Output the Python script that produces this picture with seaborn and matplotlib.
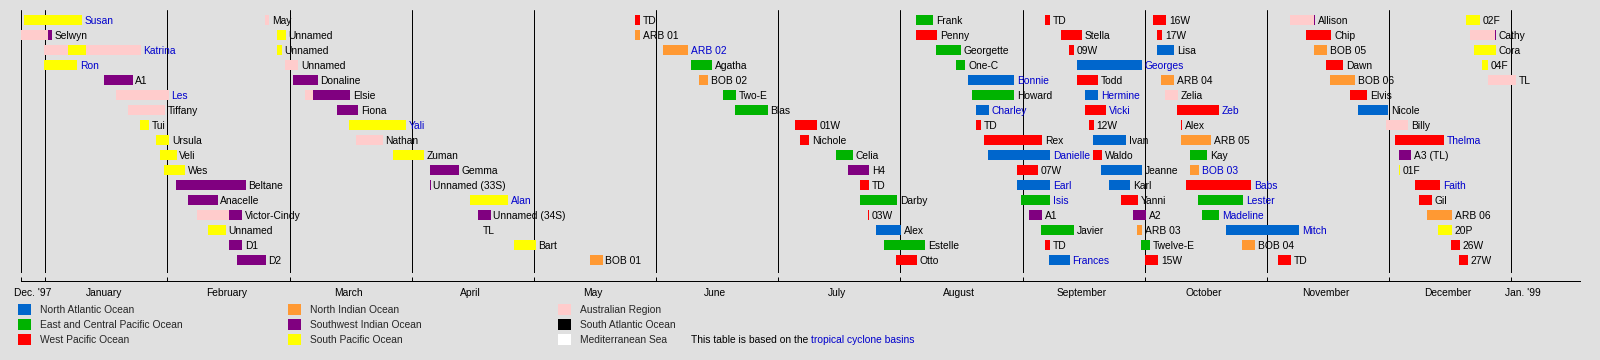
import matplotlib
matplotlib.use('Agg')
import matplotlib.pyplot as plt
from matplotlib.patches import Patch
from matplotlib.transforms import blended_transform_factory
import pandas as pd
import seaborn as sns

# Bars per timeline row: (label, start day, end day, basin). Days counted from 1 Jan 1998.
# A blank label means the bar continues in the next segment (basin change).
row_0 = [("Susan", -5.3, 9.1, "SPO"), ("May", 54.8, 55.8, "AUS"), ("TD", 146.8, 148.1, "WPO"),
         ("Frank", 216.8, 221.1, "EPO"), ("TD", 248.9, 250.2, "WPO"), ("16W", 275.8, 279.1, "WPO"),
         ("", 309.9, 315.9, "AUS"), ("Allison", 315.9, 316.2, "SWIO"), ("02F", 353.8, 357.3, "SPO")]
row_1 = [("", -6.0, 0.7, "AUS"), ("Selwyn", 0.7, 1.8, "SWIO"), ("Unnamed", 57.8, 59.9, "SPO"),
         ("ARB 01", 146.8, 148.1, "NIO"), ("Penny", 216.8, 222.1, "WPO"), ("Stella", 252.9, 258.2, "WPO"),
         ("17W", 276.8, 278.1, "WPO"), ("Chip", 313.9, 320.2, "WPO"), ("", 354.8, 361.0, "AUS"),
         ("Cathy", 361.0, 361.2, "SWIO")]
row_2 = [("", -0.2, 5.7, "AUS"), ("", 5.7, 10.1, "SPO"), ("Katrina", 10.1, 23.8, "AUS"),
         ("Unnamed", 57.6, 58.9, "SPO"), ("ARB 02", 153.8, 160.0, "NIO"), ("Georgette", 221.8, 228.0, "EPO"),
         ("09W", 254.9, 256.1, "WPO"), ("Lisa", 276.8, 281.1, "NAO"), ("BOB 05", 315.9, 319.2, "NIO"),
         ("Cora", 355.8, 361.2, "SPO")]
row_3 = [("Ron", -0.2, 8.0, "SPO"), ("Unnamed", 59.6, 63.0, "AUS"), ("Agatha", 160.8, 166.0, "EPO"),
         ("One-C", 226.8, 229.1, "EPO"), ("Georges", 256.9, 273.1, "NAO"),
         ("Dawn", 318.9, 323.1, "WPO"), ("04F", 357.8, 359.3, "SPO")]
row_4 = [("A1", 14.6, 21.8, "SWIO"), ("Donaline", 61.8, 67.9, "SWIO"), ("BOB 02", 162.8, 165.0, "NIO"),
         ("Bonnie", 229.8, 241.2, "NAO"), ("Todd", 256.9, 262.1, "WPO"), ("ARB 04", 277.8, 281.1, "NIO"),
         ("BOB 06", 319.9, 326.1, "NIO"), ("TL", 359.3, 366.2, "AUS")]
row_5 = [("Les", 17.6, 30.8, "AUS"), ("", 64.6, 66.7, "AUS"), ("Elsie", 66.7, 75.9, "SWIO"),
         ("Two-E", 168.8, 172.0, "EPO"), ("Howard", 230.8, 241.2, "EPO"), ("Hermine", 258.9, 262.1, "NAO"),
         ("Zelia", 278.8, 282.1, "AUS"), ("Elvis", 324.9, 329.1, "WPO")]
row_6 = [("Tiffany", 20.6, 29.8, "AUS"), ("Fiona", 72.6, 77.9, "SWIO"), ("Blas", 171.7, 179.9, "EPO"),
         ("Charley", 231.8, 235.0, "NAO"), ("Vicki", 258.9, 264.1, "WPO"), ("Zeb", 281.8, 292.3, "WPO"),
         ("Nicole", 326.9, 334.4, "NAO")]
row_7 = [("Tui", 23.6, 25.8, "SPO"), ("Yali", 75.6, 89.8, "SPO"), ("01W", 186.7, 192.1, "WPO"),
         ("TD", 231.8, 233.0, "WPO"), ("12W", 259.9, 261.1, "WPO"), ("Alex", 282.8, 283.0, "WPO"),
         ("Billy", 333.8, 339.3, "AUS")]
row_8 = [("Ursula", 27.6, 30.9, "SPO"), ("Nathan", 77.5, 84.0, "AUS"), ("Nichole", 187.9, 190.2, "WPO"),
         ("Rex", 233.8, 248.2, "WPO"), ("Ivan", 260.9, 269.1, "NAO"), ("ARB 05", 282.8, 290.3, "NIO"),
         ("Thelma", 336.1, 348.3, "WPO")]
row_9 = [("Veli", 28.6, 32.7, "SPO"), ("Zuman", 86.5, 94.3, "SPO"), ("Celia", 196.9, 201.1, "EPO"),
         ("Danielle", 234.7, 250.2, "NAO"), ("Waldo", 260.9, 263.1, "WPO"), ("Kay", 285.0, 289.3, "EPO"),
         ("A3 (TL)", 337.1, 340.1, "SWIO")]
row_10 = [("Wes", 29.6, 34.8, "SPO"), ("Gemma", 95.8, 103.0, "SWIO"), ("H4", 199.9, 205.1, "SWIO"),
          ("07W", 241.9, 247.1, "WPO"), ("Jeanne", 262.9, 273.1, "NAO"), ("BOB 03", 285.0, 287.3, "NIO"),
          ("01F", 337.1, 337.3, "SPO")]
row_11 = [("Beltane", 32.5, 49.9, "SWIO"), ("Unnamed (33S)", 95.8, 96.0, "SWIO"), ("TD", 202.9, 205.1, "WPO"),
          ("Earl", 241.9, 250.2, "NAO"), ("Karl", 264.9, 270.1, "NAO"), ("Babs", 284.0, 300.2, "WPO"),
          ("Faith", 341.1, 347.3, "WPO")]
row_12 = [("Anacelle", 35.5, 42.9, "SWIO"), ("Alan", 105.8, 115.3, "SPO"), ("Darby", 202.9, 212.1, "EPO"),
          ("Isis", 242.9, 250.2, "EPO"), ("Yanni", 267.9, 272.1, "WPO"), ("Lester", 287.0, 298.2, "EPO"),
          ("Gil", 342.1, 345.3, "WPO")]
row_13 = [("", 37.7, 45.7, "AUS"), ("Victor-Cindy", 45.7, 49.0, "SWIO"), ("Unnamed (34S)", 107.7, 110.9, "SWIO"),
          ("03W", 204.9, 205.1, "WPO"), ("A1", 244.9, 248.2, "SWIO"), ("A2", 270.9, 274.1, "SWIO"),
          ("Madeline", 288.0, 292.3, "EPO"), ("ARB 06", 344.1, 350.3, "NIO")]
row_14 = [("Unnamed", 40.5, 45.0, "SPO"), ("TL", 108.3, 108.3, "MED"), ("Alex", 206.9, 213.1, "NAO"),
          ("Javier", 247.9, 256.1, "EPO"), ("ARB 03", 271.9, 273.1, "NIO"), ("Mitch", 294.0, 312.2, "NAO"),
          ("20P", 346.8, 350.3, "SPO")]
row_15 = [("D1", 45.7, 49.0, "SWIO"), ("Bart", 116.7, 122.1, "SPO"), ("Estelle", 208.9, 219.1, "EPO"),
          ("TD", 248.9, 250.2, "WPO"), ("Twelve-E", 272.8, 275.1, "EPO"), ("BOB 04", 298.0, 301.2, "NIO"),
          ("26W", 350.0, 352.3, "WPO")]
row_16 = [("D2", 47.7, 54.9, "SWIO"), ("BOB 01", 135.6, 138.8, "NIO"), ("Otto", 211.8, 217.1, "WPO"),
          ("Frances", 249.9, 255.1, "NAO"), ("15W", 273.8, 277.1, "WPO"), ("TD", 306.9, 310.2, "WPO"),
          ("27W", 352.0, 354.3, "WPO")]

linked = ["Susan", "Katrina", "Ron", "Les", "Yali", "Alan", "ARB 02", "Bonnie", "Charley", "Danielle",
          "Earl", "Isis", "Frances", "Georges", "Hermine", "Vicki", "Zeb", "BOB 03", "Babs", "Lester",
          "Madeline", "Mitch", "Thelma", "Faith"]

basin_codes = ["NAO", "EPO", "WPO", "NIO", "SWIO", "SPO", "AUS", "SAO", "MED"]
basin_names = ["North Atlantic Ocean", "East and Central Pacific Ocean", "West Pacific Ocean",
               "North Indian Ocean", "Southwest Indian Ocean", "South Pacific Ocean",
               "Australian Region", "South Atlantic Ocean", "Mediterranean Sea"]
basin_colors = ["#0066cc", "#00b300", "#ff0000", "#ff9933", "#800080", "#ffff00",
                "#ffcccc", "#000000", "#ffffff"]

month_labels = ["Dec. '97", "January", "February", "March", "April", "May", "June", "July",
                "August", "September", "October", "November", "December", "Jan. '99"]

BG = "#e0e0e0"
LINK = "#0000cc"
FS = 7.4

sns.set_theme(style="white", rc={"figure.facecolor": BG, "axes.facecolor": BG})
plt.rcParams["font.family"] = ["Liberation Sans", "DejaVu Sans"]

rows = [row_0, row_1, row_2, row_3, row_4, row_5, row_6, row_7, row_8,
        row_9, row_10, row_11, row_12, row_13, row_14, row_15, row_16]
df = pd.DataFrame([dict(row=i, name=n, start=s, end=e, basin=b)
                   for i, r in enumerate(rows) for n, s, e, b in r])
colors = dict(zip(basin_codes, basin_colors))

W, H = 1600, 360
fig = plt.figure(figsize=(W / 100, H / 100), dpi=100)
ax = fig.add_axes([20.7 / W, (H - 273) / H, (1580 - 20.7) / W, (273 - 10) / H])

month = 365 / 12
grid_days = [-6.1] + [month * k for k in range(13)]
ax.set_xlim(-6.1, 382.1)
ax.set_ylim(16.867, -0.667)

for d in grid_days:
    ax.axvline(d, color="black", lw=0.72, zorder=1)

for basin, g in df.groupby("basin"):
    ax.barh(g["row"], g["end"] - g["start"], left=g["start"], height=0.71,
            color=colors[basin], linewidth=0, zorder=2)

for _, r in df[df["name"] != ""].iterrows():
    ax.annotate(r["name"], xy=(r["end"], r["row"]), xytext=(1.9, -3.0),
                textcoords="offset points", ha="left", va="baseline", fontsize=FS,
                color=LINK if r["name"] in linked else "black", annotation_clip=False, zorder=3)

# time axis
for s in ["top", "right", "left"]:
    ax.spines[s].set_visible(False)
ax.spines["bottom"].set_position(("outward", 5.76))
ax.spines["bottom"].set_color("black")
ax.spines["bottom"].set_linewidth(0.72)
ax.set_yticks([])
ax.set_xticks(grid_days)
ax.set_xticklabels([])
ax.tick_params(axis="x", direction="in", length=2.9, width=0.72, color="black", bottom=True)

label_days = [-3.05] + [month * k + 14.7 for k in range(12)] + [367.9]
tr = blended_transform_factory(ax.transData, fig.transFigure)
for d, lab in zip(label_days, month_labels):
    ax.text(d, 1 - 295.5 / H, lab, transform=tr, ha="center", va="baseline",
            fontsize=FS, color="black", clip_on=False)

# legend in three columns
handles = [Patch(facecolor=c, edgecolor="none", label=n) for c, n in zip(basin_colors, basin_names)]
for k, x0 in enumerate([18.3, 288.3, 558.3]):
    leg = fig.legend(handles=handles[3 * k:3 * k + 3], loc="upper left",
                     bbox_to_anchor=(x0 / W, 1 - 304 / H), frameon=False, fontsize=FS,
                     borderpad=0, borderaxespad=0, handlelength=1.26, handleheight=1.26,
                     handletextpad=0.87, labelspacing=0.39)

t1 = fig.text(690.7 / W, 1 - 343 / H, "This table is based on the ", fontsize=FS,
              color="black", va="baseline", ha="left")
fig.canvas.draw()
bb = t1.get_window_extent()
fig.text(bb.x1 / W, 1 - 343 / H, "tropical cyclone basins", fontsize=FS,
         color=LINK, va="baseline", ha="left")

fig.savefig("out.png", dpi=100, facecolor=BG)
